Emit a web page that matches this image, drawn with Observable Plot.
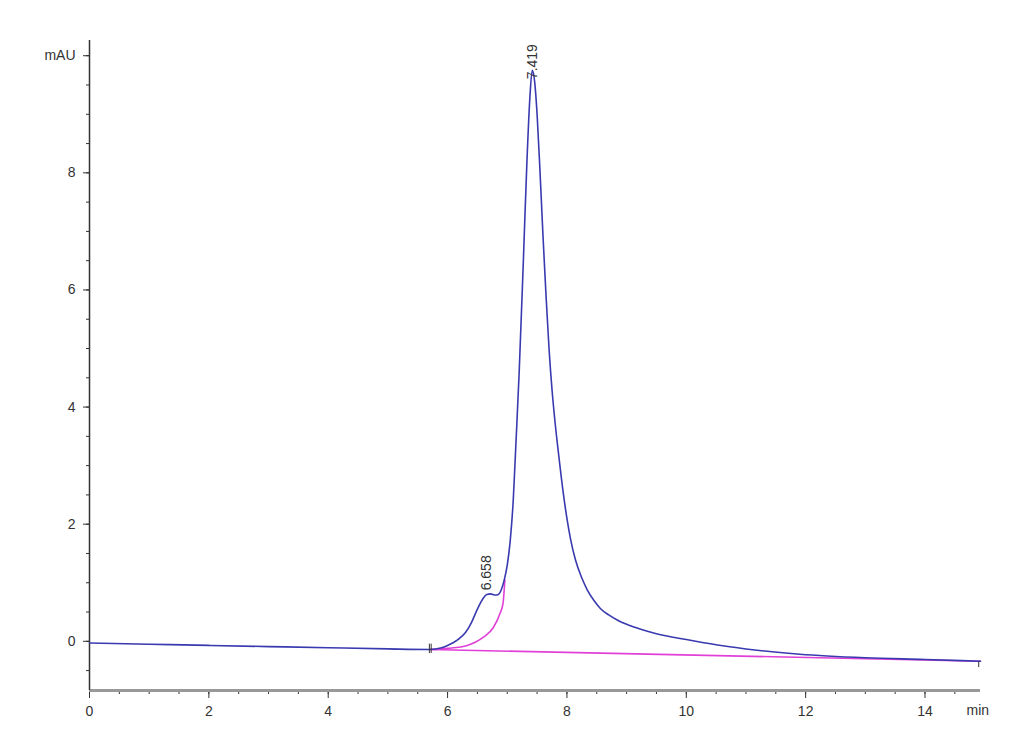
<!DOCTYPE html>
<html>
<head>
<meta charset="utf-8">
<script src="https://cdn.jsdelivr.net/npm/d3@7"></script>
<script src="https://cdn.jsdelivr.net/npm/@observablehq/plot@0.6"></script>
<style>
  body { margin: 0; background: #fff; }
  #chart svg { display: block; }
</style>
</head>
<body>
<div id="chart"></div>
<script>
// Signal trace (min, mAU)
const traceTime = [0, 1, 2, 3, 4, 5, 5.7, 5.9, 6.0, 6.1, 6.2, 6.3, 6.4, 6.5, 6.6, 6.658, 6.72, 6.8, 6.85, 6.9, 6.95, 7.0, 7.05, 7.1, 7.14, 7.2, 7.27, 7.33, 7.38, 7.419, 7.46, 7.5, 7.55, 7.6, 7.65, 7.7, 7.75, 7.8, 7.86, 7.93, 8.0, 8.06, 8.14, 8.25, 8.34, 8.45, 8.56, 8.7, 8.85, 9.0, 9.25, 9.5, 10.0, 10.5, 11.0, 11.9, 13.0, 14.0, 14.93];
const traceValue = [-0.03, -0.05, -0.07, -0.09, -0.11, -0.13, -0.14, -0.11, -0.07, -0.02, 0.05, 0.15, 0.32, 0.55, 0.74, 0.80, 0.81, 0.79, 0.80, 0.88, 1.05, 1.30, 1.72, 2.40, 3.26, 4.60, 6.50, 8.20, 9.30, 9.75, 9.55, 9.0, 8.0, 6.9, 5.9, 5.0, 4.3, 3.75, 3.2, 2.6, 2.1, 1.75, 1.40, 1.08, 0.88, 0.70, 0.56, 0.45, 0.36, 0.29, 0.20, 0.13, 0.03, -0.06, -0.13, -0.22, -0.28, -0.31, -0.34];

// Integration baseline
const baseTime = [5.71, 14.93];
const baseValue = [-0.14, -0.34];

// Peak-split curve
const splitTime = [5.71, 6.0, 6.33, 6.6, 6.77, 6.88, 6.93, 6.96];
const splitValue = [-0.14, -0.12, -0.07, 0.07, 0.24, 0.48, 0.65, 1.05];

// Peak labels
const peakTime = [6.658, 7.419];
const peakLabelY = [0.87, 9.6];
const peakLabel = ["6.658", "7.419"];

// Event markers (integration start / end)
const markerTime = [5.695, 5.725, 14.9];
const markerY1 = [-0.2, -0.2, -0.44];
const markerY2 = [-0.04, -0.04, -0.34];

const yMajor = [0, 2, 4, 6, 8, 10];
const yMinor = d3.range(-0.5, 10.01, 0.5);
const xMajor = [0, 2, 4, 6, 8, 10, 12, 14];
const xMinor = d3.range(0, 14.93, 0.5);

const trace = traceTime.map((t, i) => ({t, v: traceValue[i]}));
const base = baseTime.map((t, i) => ({t, v: baseValue[i]}));
const split = splitTime.map((t, i) => ({t, v: splitValue[i]}));
const peaks = peakTime.map((t, i) => ({t, v: peakLabelY[i], label: peakLabel[i]}));
const markers = markerTime.map((t, i) => ({t, y1: markerY1[i], y2: markerY2[i]}));

const chart = Plot.plot({
  width: 1030,
  height: 755,
  marginLeft: 89,
  marginRight: 50,
  marginTop: 40,
  marginBottom: 65,
  style: {fontFamily: "'Liberation Sans', Arial, sans-serif", fontSize: "14px", color: "#333", background: "#fff"},
  x: {domain: [0, 14.93], label: null},
  y: {domain: [-0.84, 10.26], label: null},
  marks: [
    Plot.axisY({ticks: yMinor, tickSize: 3, tickFormat: () => "", stroke: "#333", label: null}),
    Plot.axisY({ticks: yMajor, tickSize: 6, tickPadding: 8, tickFormat: d => d === 10 ? "mAU" : String(d), fontSize: 14, stroke: "#333", label: null}),
    Plot.axisX({ticks: xMinor, tickSize: 4, tickFormat: () => "", stroke: "#333", label: null}),
    Plot.axisX({ticks: xMajor, tickSize: 8, tickPadding: 8, fontSize: 14, stroke: "#333", label: null}),
    Plot.ruleY([-0.84], {stroke: "#999", strokeWidth: 3}),
    Plot.ruleX([0], {stroke: "#333", strokeWidth: 1.5}),
    Plot.line(base, {x: "t", y: "v", stroke: "#e040d8", strokeWidth: 1.6}),
    Plot.line(split, {x: "t", y: "v", stroke: "#e040d8", strokeWidth: 1.6, curve: "monotone-x"}),
    Plot.line(trace, {x: "t", y: "v", stroke: "#3a3ab0", strokeWidth: 1.6, curve: "monotone-x"}),
    Plot.link(markers, {x1: "t", x2: "t", y1: "y1", y2: "y2", stroke: "#333", strokeWidth: 1}),
    Plot.text(peaks, {x: "t", y: "v", text: "label", rotate: -90, textAnchor: "start", fontSize: 14, fill: "#333"}),
    Plot.text(["min"], {frameAnchor: "bottom-right", textAnchor: "start", dx: -14, dy: 24, fontSize: 14, fill: "#333"})
  ]
});
document.getElementById("chart").appendChild(chart);
</script>
</body>
</html>
